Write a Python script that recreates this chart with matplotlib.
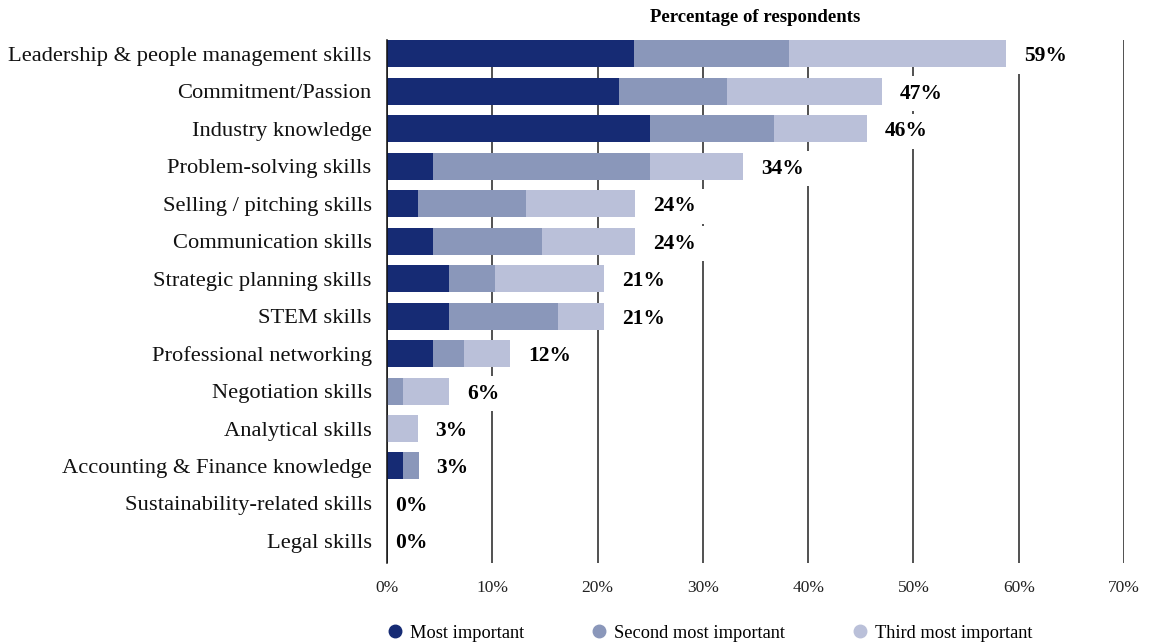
import matplotlib.pyplot as plt
from matplotlib.lines import Line2D

skills = [
    "Leadership & people management skills",
    "Commitment/Passion",
    "Industry knowledge",
    "Problem-solving skills",
    "Selling / pitching skills",
    "Communication skills",
    "Strategic planning skills",
    "STEM skills",
    "Professional networking",
    "Negotiation skills",
    "Analytical skills",
    "Accounting & Finance knowledge",
    "Sustainability-related skills",
    "Legal skills",
]
most_important = [23.5, 22.0, 25.0, 4.4, 2.9, 4.4, 5.9, 5.9, 4.4, 0.0, 0.0, 1.5, 0.0, 0.0]
second_most = [14.7, 10.3, 11.8, 20.6, 10.3, 10.3, 4.4, 10.3, 2.9, 1.5, 0.0, 1.5, 0.0, 0.0]
third_most = [20.6, 14.7, 8.8, 8.8, 10.4, 8.9, 10.3, 4.4, 4.4, 4.4, 2.9, 0.0, 0.0, 0.0]
series_names = ["Most important", "Second most important", "Third most important"]
x_ticks = [0, 10, 20, 30, 40, 50, 60, 70]

colors = ["#162b74", "#8a97ba", "#bac0d9"]
font = "Liberation Serif"

fig = plt.figure(figsize=(11.54, 6.44), dpi=100)
ax = fig.add_axes([387 / 1154, 1 - 563 / 644, (1124 - 387) / 1154, (563 - 40) / 644])

y = list(range(len(skills)))
left = [0.0] * len(skills)
for vals, col in zip([most_important, second_most, third_most], colors):
    ax.barh(y, vals, left=left, height=0.72, color=col, zorder=2)
    left = [a + b for a, b in zip(left, vals)]

# total labels with a white box that hides the grid behind them
for yi, tot in zip(y, left):
    off = 13 if tot > 0 else 6
    ax.annotate(f"{tot:.0f}%", (tot, yi), xytext=(off, 0), textcoords="offset points",
                ha="left", va="center_baseline", fontsize=15.5, fontweight="bold", family=font,
                bbox=dict(boxstyle="square,pad=0.35", fc="white", ec="none"), zorder=3)

ax.set_xlim(0, 70)
ax.set_ylim(13.59, -0.37)
ax.set_xticks(x_ticks)
ax.set_xticklabels([f"{t}%" for t in x_ticks], family=font, fontsize=12.5, color="#222222")
ax.set_yticks(y)
ax.set_yticklabels(skills, family=font, fontsize=16.2, color="#111111")
ax.tick_params(axis="both", length=0)
ax.tick_params(axis="x", pad=12)
ax.tick_params(axis="y", pad=11)
ax.grid(axis="x", color="#222222", linewidth=1.1, zorder=0)
ax.set_axisbelow(True)
for s in ["top", "right", "bottom"]:
    ax.spines[s].set_visible(False)
ax.spines["left"].set_color("#111111")
ax.spines["left"].set_linewidth(1.1)

ax.set_title("Percentage of respondents", family=font, fontsize=13.5, fontweight="bold", pad=13)

handles = [Line2D([], [], marker="o", linestyle="none", markersize=9, color=c) for c in colors]
fig.legend(handles, series_names, loc="center left", bbox_to_anchor=(388 / 1154, 1 - 633 / 644),
           ncol=3, frameon=False, prop={"family": font, "size": 13.2},
           handlelength=0.8, handletextpad=0.4, columnspacing=3.7, borderpad=0, borderaxespad=0)

fig.savefig("out.png", dpi=100)
